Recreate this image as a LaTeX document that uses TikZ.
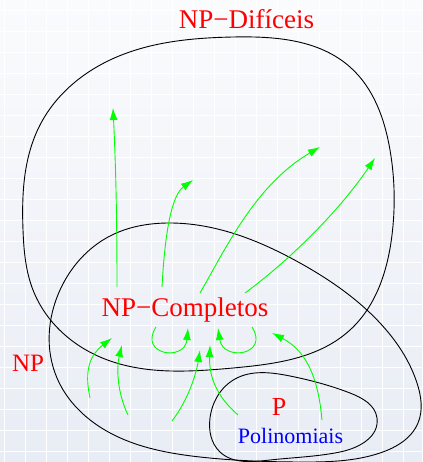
\documentclass[tikz,border=0pt]{standalone}
\usepackage{fontspec}
\setmainfont{Liberation Serif}
\usetikzlibrary{arrows.meta,hobby}
\definecolor{bgtop}{HTML}{FAFBFD}
\definecolor{bgbot}{HTML}{E8ECF4}
\begin{document}
\begin{tikzpicture}[x=1pt,y=-1pt,>={Latex[length=12pt,width=8pt]},
 blob/.style={draw=black,line width=0.9pt,use Hobby shortcut,closed=true},
 red/.style={text=red,inner sep=0pt},
 big/.style={font=\fontsize{27}{30}\selectfont},
 arr/.style={->,draw=green,line width=0.9pt}]
\useasboundingbox (0,0) rectangle (422,462);
\shade[top color=bgtop,bottom color=bgbot] (0,0) rectangle (422,462);
\foreach \g in {4,25,...,422} \draw[white,line width=0.8pt] (\g,0) -- (\g,462);
\foreach \g in {10,31,...,462} \draw[white,line width=0.8pt] (0,\g) -- (422,\g);
% NP-Dificeis
\draw[blob] (23,230) .. (40,125) .. (110,60) .. (233,37) .. (350,67) .. (390,150)
 .. (392,235) .. (350,330) .. (233,368) .. (100,357) .. (33,290);
% NP
\draw[blob] (168,223) .. (300,263) .. (380,323) .. (417,383) .. (418,423) .. (380,453)
 .. (300,462) .. (200,457) .. (100,427) .. (57,378) .. (60,290) .. (110,236);
% P
\draw[blob] (210,418) .. (235,379) .. (290,376) .. (350,393) .. (377,418) .. (340,452)
 .. (270,460) .. (220,452);
\node[red,big,anchor=base] (dif) at (246.5,29) {NP−Difíceis};
\node[red,big,anchor=base] (comp) at (185,316) {NP−Completos};
\node[red,font=\fontsize{25}{28}\selectfont,anchor=base] (np) at (28,371) {NP};
\node[red,font=\fontsize{26}{28}\selectfont,anchor=base] (p) at (279,415) {P};
\node[text=blue,inner sep=0pt,font=\fontsize{22}{24}\selectfont,anchor=base] (poli) at (290.5,443) {Polinomiais};
% out of NP-Completos
\draw[arr] (117,287) .. controls (117,200) and (115,150) .. (113,108);
\draw[arr] (162,287) .. controls (165,230) and (172,195) .. (193,180);
\draw[arr] (200,293) .. controls (225,250) and (255,185) .. (320,147);
\draw[arr] (245,293) .. controls (290,260) and (340,210) .. (375,158);
\draw[arr] (156,327) .. controls (138,355) and (185,362) .. (188,328);
\draw[arr] (252,327) .. controls (270,355) and (223,362) .. (218,328);
% into NP-Completos
\draw[arr] (90,398) .. controls (84,370) and (90,355) .. (112,338);
\draw[arr] (128,415) .. controls (116,390) and (117,365) .. (122,345);
\draw[arr] (172,421) .. controls (188,400) and (196,375) .. (200,350);
\draw[arr] (238,415) .. controls (215,395) and (209,375) .. (210,345);
\draw[arr] (322,420) .. controls (318,375) and (305,350) .. (272,333);
\end{tikzpicture}
\end{document}
